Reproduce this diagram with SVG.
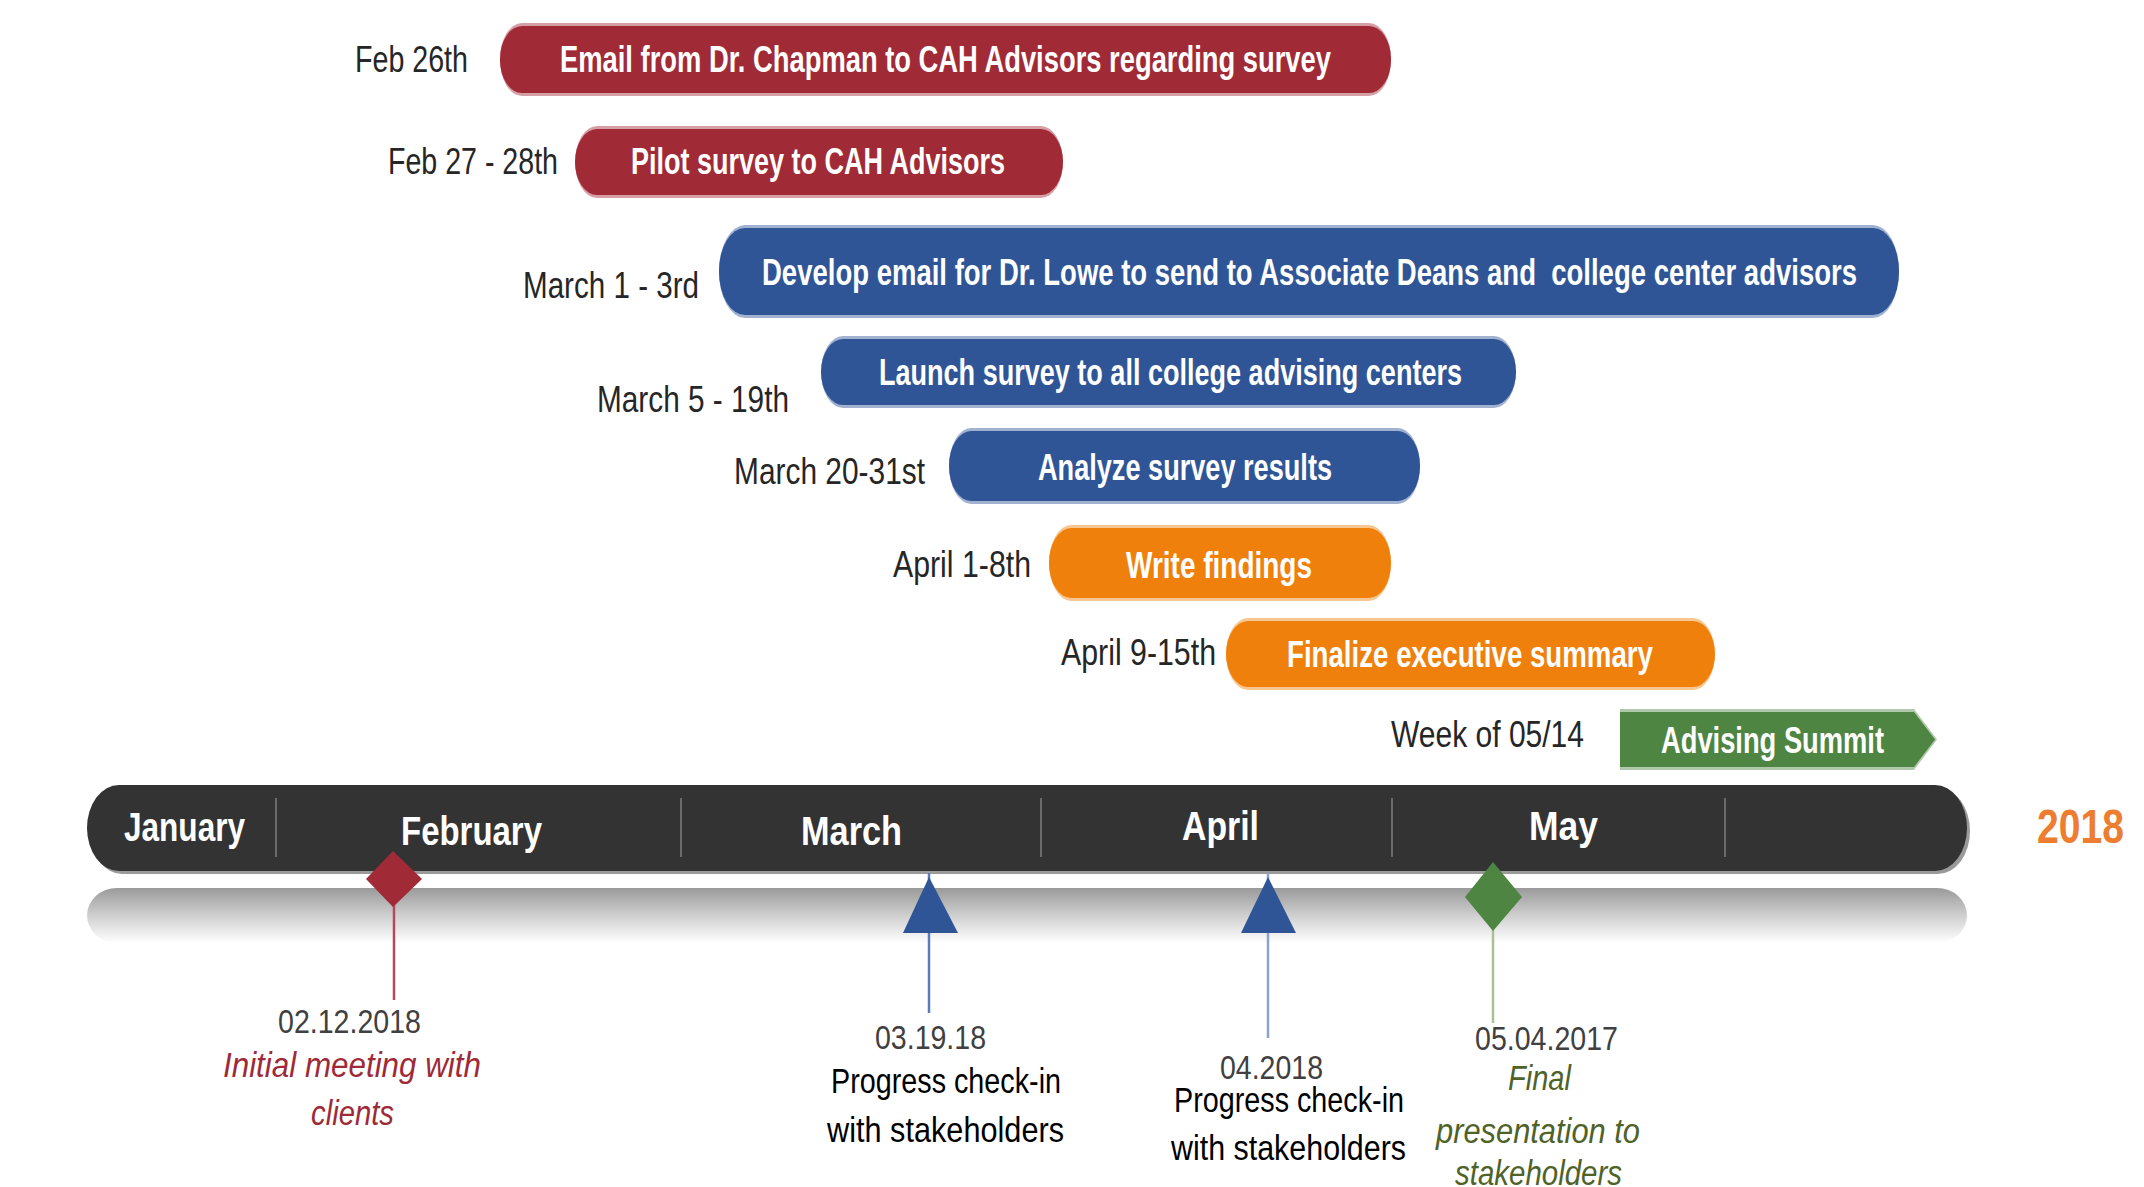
<svg xmlns="http://www.w3.org/2000/svg" width="2144" height="1187" viewBox="0 0 2144 1187">
<defs>
<linearGradient id="fade" x1="0" y1="0" x2="0" y2="1">
<stop offset="0" stop-color="#9a9a9a"/>
<stop offset="0.5" stop-color="#cfcfcf"/>
<stop offset="1" stop-color="#ffffff"/>
</linearGradient>
<style>
text{font-family:"Liberation Sans",Arial,sans-serif}
.bt{fill:#fff;font-size:36px;font-weight:bold}
.lb{fill:#262626;font-size:36px}
.mo{fill:#fff;font-size:40px;font-weight:bold}
.dt{fill:#404040;font-size:34px}
.pc{fill:#000;font-size:35px}
.ri{fill:#9E2A38;font-size:35px;font-style:italic}
.gi{fill:#4F6228;font-size:35px;font-style:italic}
.red{fill:#A12A37}
.blue{fill:#2F5597}
.org{fill:#F0800C}
.grn{fill:#4E8542}
.tint{fill-opacity:0.45}
.stem{fill:none;stroke-width:2.5}
</style>
</defs>
<rect width="2144" height="1187" fill="#fff"/>

<g id="task-email-chapman">
<rect class="red tint" x="500" y="23" width="891" height="73" rx="22" ry="36"/>
<rect class="red" x="500" y="26" width="891" height="67" rx="22" ry="33"/>
<text class="lb" x="355" y="72" textLength="113" lengthAdjust="spacingAndGlyphs">Feb 26th</text>
<text class="bt" x="560" y="72" textLength="771" lengthAdjust="spacingAndGlyphs">Email from Dr. Chapman to CAH Advisors regarding survey</text>
</g>

<g id="task-pilot-survey">
<rect class="red tint" x="575" y="126" width="488" height="72" rx="22" ry="36"/>
<rect class="red" x="575" y="129" width="488" height="66" rx="22" ry="33"/>
<text class="lb" x="388" y="174" textLength="170" lengthAdjust="spacingAndGlyphs">Feb 27 - 28th</text>
<text class="bt" x="631" y="174" textLength="374" lengthAdjust="spacingAndGlyphs">Pilot survey to CAH Advisors</text>
</g>

<g id="task-develop-email">
<rect class="blue tint" x="719" y="225" width="1180" height="93" rx="26" ry="46"/>
<rect class="blue" x="719" y="228" width="1180" height="87" rx="26" ry="43"/>
<text class="lb" x="523" y="298" textLength="176" lengthAdjust="spacingAndGlyphs">March 1 - 3rd</text>
<text class="bt" x="762" y="285" textLength="1095" lengthAdjust="spacingAndGlyphs" style="white-space:pre">Develop email for Dr. Lowe to send to Associate Deans and  college center advisors</text>
</g>

<g id="task-launch-survey">
<rect class="blue tint" x="821" y="336" width="695" height="72" rx="22" ry="36"/>
<rect class="blue" x="821" y="339" width="695" height="66" rx="22" ry="33"/>
<text class="lb" x="597" y="412" textLength="192" lengthAdjust="spacingAndGlyphs">March 5 - 19th</text>
<text class="bt" x="879" y="385" textLength="583" lengthAdjust="spacingAndGlyphs">Launch survey to all college advising centers</text>
</g>

<g id="task-analyze">
<rect class="blue tint" x="949" y="428" width="471" height="76" rx="22" ry="38"/>
<rect class="blue" x="949" y="431" width="471" height="70" rx="22" ry="35"/>
<text class="lb" x="734" y="484" textLength="191" lengthAdjust="spacingAndGlyphs">March 20-31st</text>
<text class="bt" x="1038" y="480" textLength="294" lengthAdjust="spacingAndGlyphs">Analyze survey results</text>
</g>

<g id="task-write-findings">
<rect class="org tint" x="1049" y="525" width="342" height="76" rx="22" ry="38"/>
<rect class="org" x="1049" y="528" width="342" height="70" rx="22" ry="35"/>
<text class="lb" x="893" y="577" textLength="138" lengthAdjust="spacingAndGlyphs">April 1-8th</text>
<text class="bt" x="1126" y="578" textLength="186" lengthAdjust="spacingAndGlyphs">Write findings</text>
</g>

<g id="task-exec-summary">
<rect class="org tint" x="1226" y="618" width="489" height="72" rx="22" ry="36"/>
<rect class="org" x="1226" y="621" width="489" height="66" rx="22" ry="33"/>
<text class="lb" x="1061" y="665" textLength="155" lengthAdjust="spacingAndGlyphs">April 9-15th</text>
<text class="bt" x="1287" y="667" textLength="366" lengthAdjust="spacingAndGlyphs">Finalize executive summary</text>
</g>

<g id="task-advising-summit">
<polygon class="grn tint" points="1620,709 1914,709 1937,739.5 1914,770 1620,770"/>
<polygon class="grn" points="1620,712 1914,712 1935,739.5 1914,767 1620,767"/>
<text class="lb" x="1391" y="747" textLength="193" lengthAdjust="spacingAndGlyphs">Week of 05/14</text>
<text class="bt" x="1661" y="753" textLength="223" lengthAdjust="spacingAndGlyphs">Advising Summit</text>
</g>

<g id="timeline">
<rect x="87" y="888" width="1880" height="55" rx="30" ry="28" fill="url(#fade)"/>
<rect x="90" y="788" width="1880" height="86" rx="32" ry="43" fill="#9a9a9a"/>
<rect x="87" y="785" width="1880" height="86" rx="32" ry="43" fill="#333333"/>
<g stroke="#6a6a6a" stroke-width="2">
<line x1="276" y1="798" x2="276" y2="857"/>
<line x1="681" y1="798" x2="681" y2="857"/>
<line x1="1041" y1="798" x2="1041" y2="857"/>
<line x1="1392" y1="798" x2="1392" y2="857"/>
<line x1="1725" y1="798" x2="1725" y2="857"/>
</g>
<text class="mo" x="124" y="841" textLength="121" lengthAdjust="spacingAndGlyphs">January</text>
<text class="mo" x="401" y="845" textLength="141" lengthAdjust="spacingAndGlyphs">February</text>
<text class="mo" x="801" y="845" textLength="101" lengthAdjust="spacingAndGlyphs">March</text>
<text class="mo" x="1182" y="840" textLength="77" lengthAdjust="spacingAndGlyphs">April</text>
<text class="mo" x="1529" y="840" textLength="69" lengthAdjust="spacingAndGlyphs">May</text>
<text x="2037" y="843" textLength="87" lengthAdjust="spacingAndGlyphs" style="fill:#ED7D31;font-size:48px;font-weight:bold">2018</text>
</g>

<g id="connectors">
<line class="stem" x1="394" y1="905" x2="394" y2="1000" stroke="#B5485A"/>
<line class="stem" x1="929" y1="873" x2="929" y2="1013" stroke="#5B7CB8"/>
<line class="stem" x1="1268" y1="873" x2="1268" y2="1038" stroke="#8DA3CF"/>
<line class="stem" x1="1493" y1="929" x2="1493" y2="1023" stroke="#A9C196" stroke-width="3"/>
</g>

<g id="milestone-initial-meeting">
<polygon class="red" points="393,851 422,879 393,907 366,879"/>
<text class="dt" x="278" y="1033" textLength="143" lengthAdjust="spacingAndGlyphs">02.12.2018</text>
<text class="ri" x="223" y="1077" textLength="258" lengthAdjust="spacingAndGlyphs">Initial meeting with</text>
<text class="ri" x="311" y="1125" textLength="83" lengthAdjust="spacingAndGlyphs">clients</text>
</g>

<g id="milestone-checkin-1">
<polygon class="blue" points="929,877 958,933 903,933"/>
<text class="dt" x="875" y="1049" textLength="111" lengthAdjust="spacingAndGlyphs">03.19.18</text>
<text class="pc" x="831" y="1093" textLength="230" lengthAdjust="spacingAndGlyphs">Progress check-in</text>
<text class="pc" x="827" y="1142" textLength="237" lengthAdjust="spacingAndGlyphs">with stakeholders</text>
</g>

<g id="milestone-checkin-2">
<polygon class="blue" points="1268,877 1296,933 1241,933"/>
<text class="dt" x="1220" y="1079" textLength="103" lengthAdjust="spacingAndGlyphs">04.2018</text>
<text class="pc" x="1174" y="1112" textLength="230" lengthAdjust="spacingAndGlyphs">Progress check-in</text>
<text class="pc" x="1171" y="1160" textLength="235" lengthAdjust="spacingAndGlyphs">with stakeholders</text>
</g>

<g id="milestone-final-presentation">
<polygon class="grn" points="1493,862 1522,897 1493,931 1465,897"/>
<text class="dt" x="1475" y="1050" textLength="143" lengthAdjust="spacingAndGlyphs">05.04.2017</text>
<text class="gi" x="1508" y="1090" textLength="63" lengthAdjust="spacingAndGlyphs">Final</text>
<text class="gi" x="1436" y="1143" textLength="204" lengthAdjust="spacingAndGlyphs">presentation to</text>
<text class="gi" x="1455" y="1185" textLength="167" lengthAdjust="spacingAndGlyphs">stakeholders</text>
</g>
</svg>
